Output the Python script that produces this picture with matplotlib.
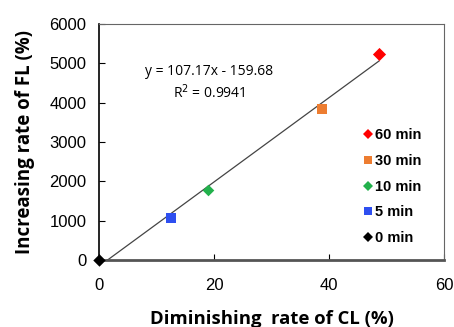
import matplotlib
matplotlib.use("Agg")
import matplotlib.pyplot as plt
from matplotlib.lines import Line2D

labels = ["60 min", "30 min", "10 min", "5 min", "0 min"]
x_vals = [48.7, 38.8, 19.0, 12.5, 0.0]
y_vals = [5250, 3850, 1790, 1080, 0]
colors = ["#ff0000", "#ed7d31", "#22b14c", "#2e4ff0", "#000000"]
markers = ["D", "s", "D", "s", "D"]
sizes = [45, 60, 35, 60, 40]
fit_x = [1.49, 48.7]
slope, intercept = 107.17, -159.68

fig = plt.figure(figsize=(4.54, 3.27), dpi=100)
ax = fig.add_axes([99/454, 1-260/327, (444-99)/454, (260-24)/327])

fy = [slope*x + intercept for x in fit_x]
ax.plot(fit_x, fy, color="#444444", lw=0.9, zorder=2)
for x, y, c, m, s in zip(x_vals, y_vals, colors, markers, sizes):
    ax.scatter([x], [y], color=c, marker=m, s=s, zorder=3, linewidths=0, clip_on=False)

ax.set_xlim(0, 60)
ax.set_ylim(0, 6000)
ax.set_xticks([0, 20, 40, 60])
ax.set_yticks([0, 1000, 2000, 3000, 4000, 5000, 6000])
ax.tick_params(direction="in", length=4, width=0.8, labelsize=12, colors="#000000")
ax.tick_params(axis="x", pad=13)
ax.tick_params(axis="y", pad=9)
for lab in ax.get_xticklabels() + ax.get_yticklabels():
    lab.set_fontfamily("Liberation Sans")

ax.spines["left"].set_color("#000000")
ax.spines["left"].set_linewidth(1.2)
ax.spines["bottom"].set_color("#555555")
ax.spines["bottom"].set_linewidth(2.0)
ax.spines["top"].set_color("#666666")
ax.spines["right"].set_color("#666666")

ax.set_xlabel("Diminishing  rate of CL (%)", fontsize=13.3, fontweight="bold",
              fontfamily="Open Sans", labelpad=12)
ax.set_ylabel("Increasing rate of FL (%)", fontsize=13.5, fontweight="bold",
              fontfamily="Open Sans", labelpad=10)

ax.text(19.2, 4780, "y = 107.17x - 159.68", fontsize=10, fontfamily="Open Sans",
        ha="center", va="center")
ax.text(19.2, 4250, "R$^2$ = 0.9941", fontsize=10, fontfamily="Open Sans",
        ha="center", va="center")

handles = [Line2D([], [], linestyle="none", marker=m, color=c,
                  markersize=(6 if m == "s" else 5.5), markeredgewidth=0)
           for m, c in zip(markers, colors)]
ax.legend(handles, labels, loc="lower right", bbox_to_anchor=(0.965, 0.02), frameon=False,
          prop={"family": "Liberation Sans", "weight": "bold", "size": 10.5},
          handlelength=0.6, handletextpad=0.2, labelspacing=0.8, borderpad=0.2)

fig.savefig("out.png", dpi=100)
